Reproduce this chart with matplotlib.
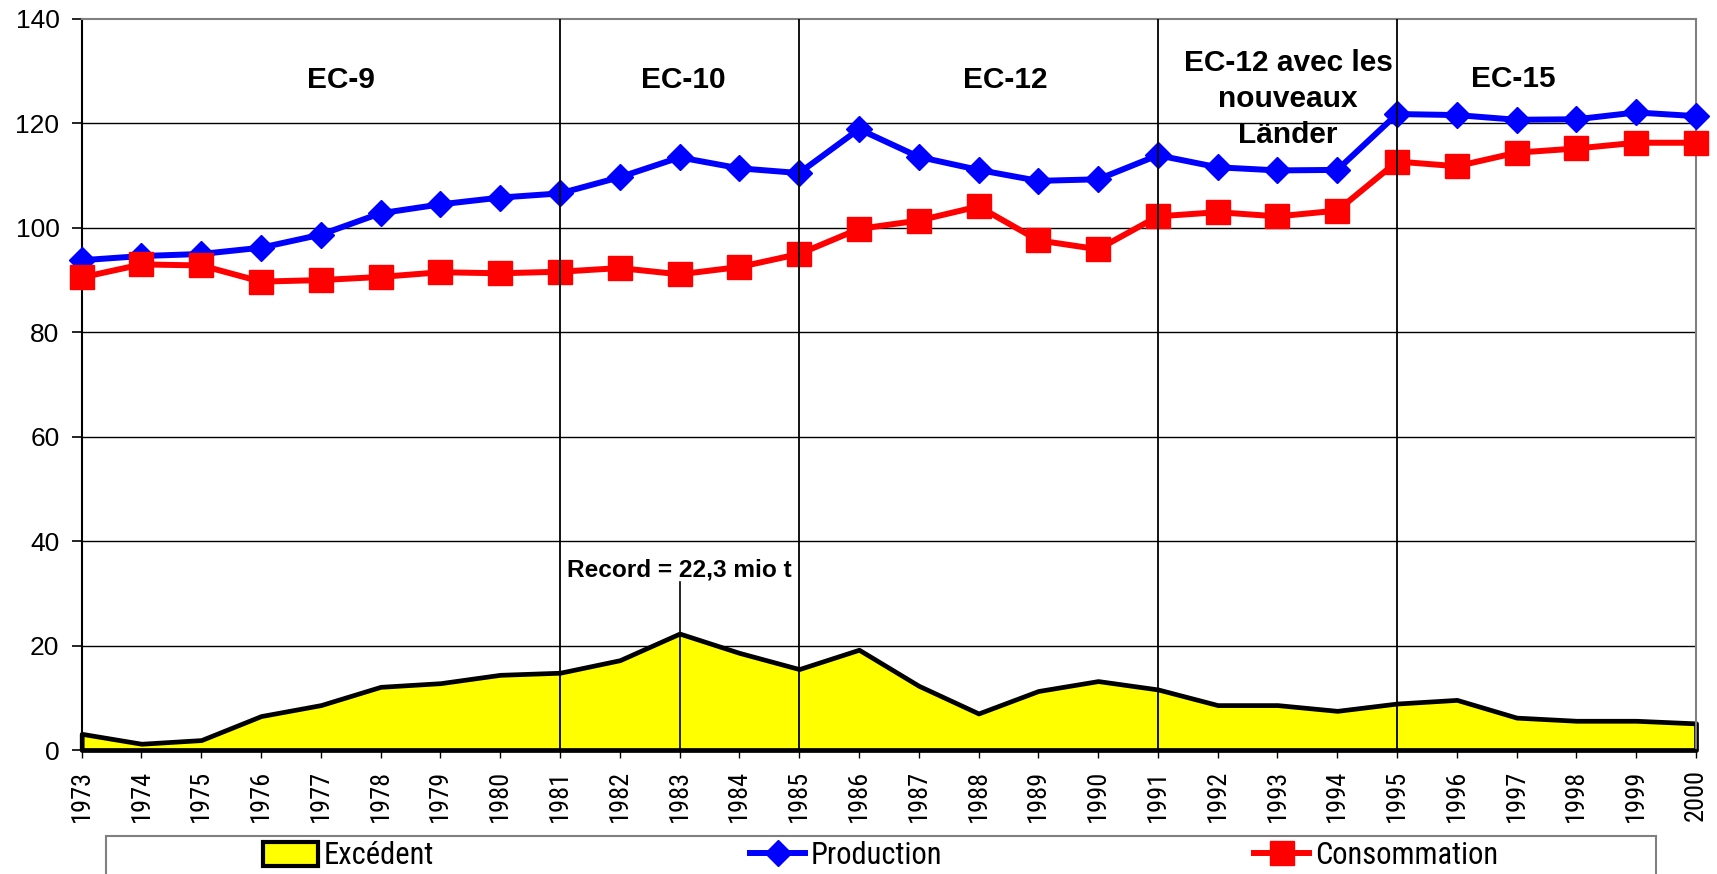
import matplotlib
matplotlib.use("Agg")
import matplotlib.pyplot as plt
from matplotlib.patches import Patch, Rectangle
from matplotlib.lines import Line2D
from matplotlib import font_manager

# ---------------- data ----------------
years = list(range(1973, 2001))
production = [93.8, 94.6, 95.0, 96.2, 98.7, 102.8, 104.5, 105.8, 106.6, 109.7,
              113.5, 111.4, 110.5, 118.9, 113.6, 111.1, 109.0, 109.3, 113.9, 111.6,
              111.0, 111.1, 121.8, 121.6, 120.7, 120.8, 122.1, 121.4]
consommation = [90.5, 93.0, 92.8, 89.7, 90.0, 90.6, 91.5, 91.3, 91.6, 92.3,
                91.1, 92.5, 95.0, 99.8, 101.4, 104.1, 97.6, 95.9, 102.2, 103.0,
                102.2, 103.3, 112.7, 111.8, 114.4, 115.2, 116.3, 116.3]
excedent = [3.1, 1.2, 1.9, 6.5, 8.6, 12.1, 12.8, 14.4, 14.8, 17.2,
            22.3, 18.6, 15.5, 19.2, 12.3, 7.0, 11.3, 13.2, 11.6, 8.6,
            8.6, 7.5, 8.9, 9.6, 6.2, 5.6, 5.6, 5.1]
series_labels = ["Excédent", "Production", "Consommation"]
period_breaks = [1981, 1985, 1991, 1995]
period_labels = ["EC-9", "EC-10", "EC-12", "EC-12 avec les\nnouveaux\nLänder", "EC-15"]
period_label_x = [1977.34, 1983.07, 1988.44, 1993.18, 1996.95]
period_label_y = [128.3, 128.3, 128.3, 124.6, 128.6]
record_year = 1983
record_value = 22.3
record_text = "Record = 22,3 mio t"
y_ticks = [0, 20, 40, 60, 80, 100, 120, 140]

# ---------------- fonts ----------------
avail = {f.name for f in font_manager.fontManager.ttflist}
base = "Liberation Sans" if "Liberation Sans" in avail else "DejaVu Sans"
narrow = None
for cand in ["Liberation Sans Narrow", "Arial Narrow", "Roboto Condensed",
             "Open Sans Condensed", "Noto Sans Condensed", "DejaVu Sans Condensed"]:
    if cand in avail:
        narrow = cand
        break
plt.rcParams["font.family"] = [base, "DejaVu Sans"]

if narrow:
    xt_font = [narrow, base]; xt_size = 19
    lg_font = [narrow, base]; lg_size = 22
else:
    xt_font = [base]; xt_size = 16
    lg_font = [base]; lg_size = 19.5

fig = plt.figure(figsize=(17.17, 8.74), dpi=100)
ax = fig.add_axes([81.7 / 1717, 1 - 750 / 874, (1696 - 81.7) / 1717, (750 - 19) / 874])

ax.set_xlim(1973, 2000)
ax.set_ylim(0, 140)

# grid
for v in y_ticks[1:-1]:
    ax.axhline(v, color="black", lw=1.0, zorder=1)

# surplus area
ax.fill_between(years, excedent, 0, facecolor="#FFFF00", edgecolor="black",
                linewidth=3.4, zorder=2, clip_on=False)

# lines
ax.plot(years, production, color="#0000FF", lw=4.3, marker="D", ms=13.5,
        mec="#0000FF", mfc="#0000FF", zorder=4, clip_on=False)
ax.plot(years, consommation, color="#FF0000", lw=4.3, marker="s", ms=17,
        mec="#FF0000", mfc="#FF0000", zorder=4, clip_on=False)

# period separators
for b in period_breaks:
    ax.axvline(b, color="black", lw=1.3, zorder=6)

# period labels
for lab, x, y in zip(period_labels, period_label_x, period_label_y):
    ax.text(x, y, lab, ha="center", va="center", fontsize=21.5, fontweight="bold",
            linespacing=1.36, zorder=7)

# record annotation
ax.plot([record_year, record_year], [0, 32.1], color="black", lw=1.2, zorder=6)
ax.text(record_year, 34.4, record_text, ha="center", va="center", fontsize=17.6,
        fontweight="bold", zorder=7)

# axes styling
ax.set_yticks(y_ticks)
ax.set_yticklabels([str(v) for v in y_ticks], fontsize=19)
ax.set_xticks(years)
ax.set_xticklabels([str(y) for y in years], rotation=90, fontsize=xt_size,
                   family=xt_font, va="top", ha="center")
ax.tick_params(axis="y", direction="out", length=7, width=1.2, pad=9, color="black")
ax.tick_params(axis="x", direction="out", length=6, width=1.0, pad=8, color="black")
for s in ["left", "bottom"]:
    ax.spines[s].set_color("black")
    ax.spines[s].set_linewidth(1.5)
for s in ["top", "right"]:
    ax.spines[s].set_color("#808080")
    ax.spines[s].set_linewidth(1.5)

# legend box
fig.patches.append(Rectangle((105.7 / 1717, -0.05), (1656 - 105.7) / 1717, 0.05 + 1 - 836 / 874,
                             transform=fig.transFigure, facecolor="white",
                             edgecolor="#808080", linewidth=1.5))
handles = [
    Patch(facecolor="#FFFF00", edgecolor="black", linewidth=3),
    Line2D([], [], color="#0000FF", lw=4.3, marker="D", ms=13),
    Line2D([], [], color="#FF0000", lw=4.3, marker="s", ms=17),
]
leg_x = [263 / 1717, 750 / 1717, 1254 / 1717]
for h, lab, x in zip(handles, series_labels, leg_x):
    fig.legend([h], [lab], loc="center left", bbox_to_anchor=(x, 1 - 856 / 874),
               frameon=False, borderpad=0, borderaxespad=0, handlelength=1.8,
               handleheight=0.85, handletextpad=0.2,
               prop={"family": lg_font, "size": lg_size})

fig.savefig("out.png", dpi=100)
